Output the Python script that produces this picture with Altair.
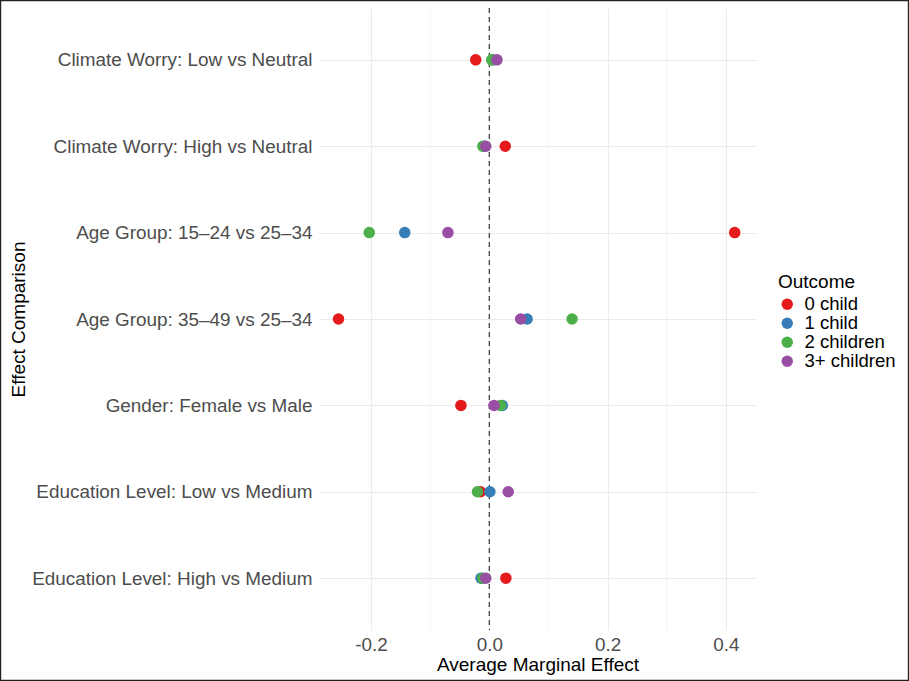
import altair as alt
import pandas as pd

comparisons = [
    "Climate Worry: Low vs Neutral",
    "Climate Worry: High vs Neutral",
    "Age Group: 15–24 vs 25–34",
    "Age Group: 35–49 vs 25–34",
    "Gender: Female vs Male",
    "Education Level: Low vs Medium",
    "Education Level: High vs Medium",
]
outcomes = ["0 child", "1 child", "2 children", "3+ children"]
colors = ["#E41A1C", "#377EB8", "#4DAF4A", "#984EA3"]

# Average marginal effect per comparison, one list per outcome
ame_0 = [-0.023, 0.027, 0.415, -0.255, -0.048, -0.015, 0.028]
ame_1 = [0.006, -0.008, -0.143, 0.064, 0.022, 0.001, -0.014]
ame_2 = [0.004, -0.011, -0.203, 0.140, 0.019, -0.020, -0.011]
ame_3 = [0.013, -0.006, -0.070, 0.053, 0.008, 0.032, -0.006]

major_ticks = [-0.2, 0.0, 0.2, 0.4]
minor_ticks = [-0.1, 0.1, 0.3]
x_domain = [-0.288, 0.451]

rows = []
for outcome, values in zip(outcomes, [ame_0, ame_1, ame_2, ame_3]):
    for comp, v in zip(comparisons, values):
        rows.append({"comparison": comp, "outcome": outcome, "ame": v})
df = pd.DataFrame(rows)

FONT = "Liberation Sans"
LABEL_SIZE = 18.9
TITLE_SIZE = 19

PLOT_W, PLOT_H = 437, 622
PAD = {"left": 319, "top": 8, "right": 909 - 319 - 437, "bottom": 681 - 8 - 622}

x_scale = alt.Scale(domain=x_domain, nice=False, zero=False)
y_scale = alt.Scale(type="point", domain=comparisons, padding=0.6)

points = alt.Chart(df).mark_circle(size=132, opacity=1).encode(
    x=alt.X(
        "ame:Q",
        scale=x_scale,
        title="Average Marginal Effect",
        axis=alt.Axis(
            values=major_ticks,
            labelExpr="replace(format(datum.value, '.1f'), '\u2212', '-')",
            grid=True,
            gridColor="#EBEBEB",
            gridWidth=1.1,
            domain=False,
            ticks=False,
            labelPadding=5,
            labelFontSize=LABEL_SIZE,
            labelColor="#4D4D4D",
            titleFontSize=TITLE_SIZE,
            titleFontWeight="normal",
            titleColor="#000000",
            titlePadding=2,
        ),
    ),
    y=alt.Y(
        "comparison:N",
        scale=y_scale,
        sort=comparisons,
        title="Effect Comparison",
        axis=alt.Axis(
            grid=True,
            gridColor="#EBEBEB",
            gridWidth=1.1,
            domain=False,
            ticks=False,
            labelPadding=7,
            labelFontSize=LABEL_SIZE,
            labelColor="#4D4D4D",
            labelLimit=400,
            titleFontSize=TITLE_SIZE,
            titleFontWeight="normal",
            titleColor="#000000",
            titleAngle=270,
            titleAlign="center",
            titleBaseline="middle",
            titleX=-301,
            titleY=311,
        ),
    ),
    color=alt.Color(
        "outcome:N",
        scale=alt.Scale(domain=outcomes, range=colors),
        title="Outcome",
        legend=alt.Legend(
            orient="none",
            legendX=459,
            legendY=265,
            symbolType="circle",
            symbolSize=130,
            symbolStrokeWidth=0,
            labelFontSize=18.5,
            labelColor="#000000",
            titleFontSize=TITLE_SIZE,
            titleFontWeight="normal",
            titleColor="#000000",
            titlePadding=3,
            rowPadding=-1,
            labelOffset=8,
        ),
    ),
    order=alt.Order("order:Q"),
).transform_calculate(
    order="indexof(['0 child','1 child','2 children','3+ children'], datum.outcome)"
)

minor_grid = alt.Chart(pd.DataFrame({"x": minor_ticks})).mark_rule(
    color="#F2F2F2", strokeWidth=0.8
).encode(x=alt.X("x:Q", scale=x_scale))

zero_line = alt.Chart(pd.DataFrame({"x": [0.0]})).mark_rule(
    color="#333333", strokeWidth=1.2, strokeDash=[5, 4]
).encode(x=alt.X("x:Q", scale=x_scale))

# thin frame around the whole figure
frame = alt.Chart(pd.DataFrame({"f": [0]})).mark_rect(
    fill=None, stroke="#222222", strokeWidth=1.2
).encode(
    x=alt.value(-PAD["left"] + 0.6),
    x2=alt.value(PLOT_W + PAD["right"] - 0.6),
    y=alt.value(-PAD["top"] + 0.6),
    y2=alt.value(PLOT_H + PAD["bottom"] - 0.6),
)

chart = (
    alt.layer(minor_grid, zero_line, points, frame)
    .properties(
        width=PLOT_W,
        height=PLOT_H,
        autosize=alt.AutoSizeParams(type="none"),
        padding=PAD,
        background="white",
    )
    .configure(font=FONT)
    .configure_view(stroke=None)
)

chart.save("out.html", embed_options={"renderer": "svg", "actions": False})
